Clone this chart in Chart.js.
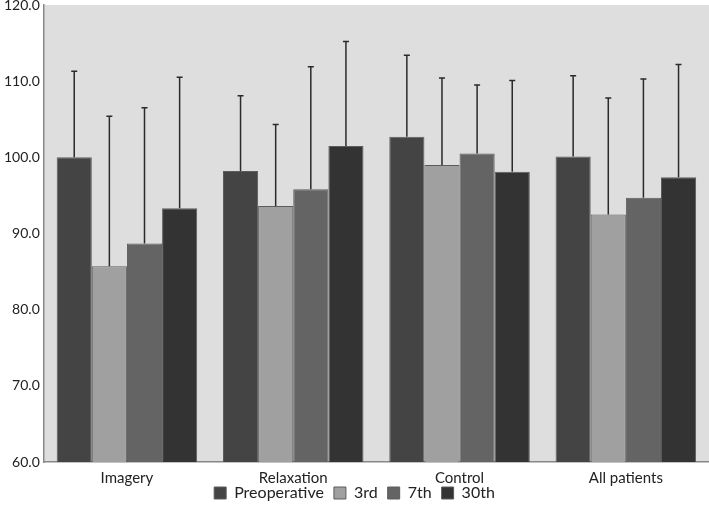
<!DOCTYPE html>
<html>
<head>
<meta charset="utf-8">
<script src="https://cdn.jsdelivr.net/npm/chart.js@4"></script>
<style>
  html, body { margin: 0; padding: 0; background: #fff; }
  #wrap { width: 709px; height: 505px; }
</style>
</head>
<body>
<div id="wrap"><canvas id="myChart" width="709" height="505"></canvas></div>
<script>
// categories and series
let groups = ['Imagery', 'Relaxation', 'Control', 'All patients'];
let seriesNames = ['Preoperative', '3rd', '7th', '30th'];
let preop = [100.0, 98.2, 102.7, 100.1];
let day3 = [85.7, 93.6, 99.0, 92.5];
let day7 = [88.7, 95.8, 100.5, 94.7];
let day30 = [93.3, 101.5, 98.1, 97.4];
// top of the error bars
let preopErr = [111.3, 108.1, 113.4, 110.7];
let day3Err = [105.4, 104.3, 110.4, 107.8];
let day7Err = [106.5, 111.9, 109.5, 110.3];
let day30Err = [110.5, 115.2, 110.1, 112.2];
let yTicks = [60, 70, 80, 90, 100, 110, 120];

let colors = ['#444444', '#a0a0a0', '#646464', '#333333'];
let values = [preop, day3, day7, day30];
let errTops = [preopErr, day3Err, day7Err, day30Err];

// gray plot background
const plotBg = {
    id: 'plotBg',
    beforeDraw(chart) {
        let a = chart.chartArea;
        let ctx = chart.ctx;
        ctx.save();
        ctx.fillStyle = '#dedede';
        ctx.fillRect(a.left, a.top, a.right - a.left, a.bottom - a.top);
        ctx.restore();
    }
};

// upward error whiskers with a cap
const errorBars = {
    id: 'errorBars',
    afterDatasetsDraw(chart) {
        let ctx = chart.ctx;
        let y = chart.scales.y;
        ctx.save();
        ctx.strokeStyle = '#2a2a2a';
        ctx.lineWidth = 1.5;
        chart.data.datasets.forEach(function(ds, i) {
            let meta = chart.getDatasetMeta(i);
            meta.data.forEach(function(bar, j) {
                let top = y.getPixelForValue(errTops[i][j]);
                ctx.beginPath();
                ctx.moveTo(bar.x, bar.y);
                ctx.lineTo(bar.x, top);
                ctx.moveTo(bar.x - 3, top);
                ctx.lineTo(bar.x + 3, top);
                ctx.stroke();
            });
        });
        ctx.restore();
    }
};

// squeeze the legend closer to the axis labels
const tightLegend = {
    id: 'tightLegend',
    afterInit(chart) {
        let lg = chart.legend;
        let fit = lg.fit;
        let draw = lg.draw;
        lg.fit = function() {
            fit.call(this);
            this.height = 11;
        };
        lg.draw = function() {
            let shift = 19;
            this.top -= shift;
            draw.call(this);
            this.top += shift;
        };
    }
};

document.addEventListener("DOMContentLoaded", function() {
    let ctx = document.getElementById('myChart').getContext('2d');
    new Chart(ctx, {
        type: 'bar',
        data: {
            labels: groups,
            datasets: seriesNames.map(function(name, i) {
                return {
                    label: name,
                    data: values[i],
                    backgroundColor: colors[i],
                    borderColor: '#5c5c5c',
                    borderWidth: 1,
                    barPercentage: 1.0,
                    categoryPercentage: 0.845
                };
            })
        },
        options: {
            responsive: false,
            animation: false,
            layout: { padding: { left: 0, right: 0, top: 5, bottom: 0 } },
            plugins: {
                tooltip: { enabled: false },
                legend: {
                    position: 'bottom',
                    labels: {
                        font: { family: 'Lato', size: 16 },
                        color: '#222',
                        boxWidth: 12,
                        boxHeight: 12,
                        padding: 10
                    }
                }
            },
            scales: {
                x: {
                    grid: { display: false, drawTicks: false },
                    border: { color: '#888', width: 1.5 },
                    ticks: { font: { family: 'Lato', size: 15 }, color: '#222', padding: 7 }
                },
                y: {
                    min: 60,
                    max: 120,
                    grid: { display: false, drawTicks: false },
                    border: { color: '#888', width: 1.5 },
                    afterBuildTicks: function(axis) {
                        axis.ticks = yTicks.map(function(v) { return { value: v }; });
                    },
                    afterFit: function(axis) {
                        axis.paddingTop = 0;
                        axis.paddingBottom = 0;
                    },
                    ticks: {
                        font: { family: 'Lato', size: 14 },
                        color: '#222',
                        padding: 4,
                        callback: function(v) { return v.toFixed(1); }
                    }
                }
            }
        },
        plugins: [plotBg, errorBars, tightLegend]
    });
});
</script>
</body>
</html>
